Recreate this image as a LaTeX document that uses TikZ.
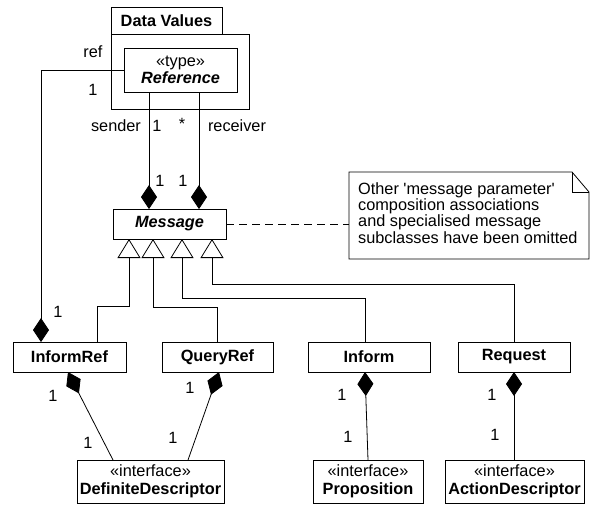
\documentclass[tikz,border=0pt]{standalone}
\usepackage{fontspec}
\setmainfont{Liberation Sans}
\usetikzlibrary{arrows.meta}
\begin{document}
\begin{tikzpicture}[x=1pt,y=-1pt, font=\fontsize{16.3}{17.5}\selectfont,
  box/.style={draw, line width=0.9pt, inner sep=0pt, outer sep=0pt, align=center, fill=white},
  conn/.style={line width=0.8pt},
  comp/.style={conn, -{Diamond[length=24pt,width=16pt,fill=black]}},
  compstart/.style={conn, {Diamond[length=24pt,width=16pt,fill=black]}-},
  gen/.style={conn, line join=miter, -{Triangle[length=19pt,width=23pt,fill=white]}},
  lbl/.style={inner sep=0pt}]
\useasboundingbox (0,0) rectangle (591,504);
\fill[white] (0,0) rectangle (591,504);
% package
\node[box, minimum width=138pt, minimum height=75pt] (pkg) at (180,71.5) {};
\node[box, minimum width=111pt, minimum height=27pt] (tab) at (166.5,20.5) {\textbf{Data Values}};
\node[box, minimum width=113pt, minimum height=44pt] (reference) at (180.5,70) {«type»\\\textbf{\textit{Reference}}};
% message
\node[box, minimum width=113pt, minimum height=30pt] (message) at (169.5,224) {\textbf{\textit{Message}}};
% note
\draw[line width=0.8pt, fill=white] (349,172) -- (572,172) -- (589,192) -- (589,259) -- (349,259) -- cycle;
\draw[line width=0.8pt] (572,172) -- (572,192) -- (589,192);
\coordinate (notew) at (349,223);
\node[lbl, anchor=west, align=left, font=\fontsize{16.3}{14}\selectfont] (notetext) at (358,213) {Other \textquotesingle message parameter\textquotesingle\\composition associations\\and specialised message\\subclasses have been omitted};
\draw[conn, dash pattern=on 8pt off 5pt] (message.east) -- (notew |- message.east);
% subclasses
\node[box, minimum width=113pt, minimum height=30pt] (informref) at (69.5,357) {\textbf{InformRef}};
\node[box, minimum width=111pt, minimum height=30pt] (queryref) at (217.5,357) {\textbf{QueryRef}};
\node[box, minimum width=122pt, minimum height=30pt] (inform) at (369,357) {\textbf{Inform}};
\node[box, minimum width=112pt, minimum height=30pt] (request) at (514,357) {\textbf{Request}};
% interfaces
\node[box, minimum width=147pt, minimum height=43pt] (dd) at (150.5,481.5) {«interface»\\\textbf{DefiniteDescriptor}};
\node[box, minimum width=110pt, minimum height=43pt] (prop) at (368,481.5) {«interface»\\\textbf{Proposition}};
\node[box, minimum width=139pt, minimum height=43pt] (ad) at (514.5,481.5) {«interface»\\\textbf{ActionDescriptor}};
% compositions to Message
\draw[comp] ([xshift=25pt]reference.south west) coordinate (s1) -- (s1 |- message.north);
\draw[comp] ([xshift=75pt]reference.south west) coordinate (r1) -- (r1 |- message.north);
\draw[comp] (reference.west) -| ([xshift=28pt]informref.north west);
% generalizations
\draw[gen] ([xshift=84pt]informref.north west) -- ++(0,-36) -| ([xshift=16pt]message.south west);
\draw[gen] (queryref.north) -- ++(0,-35) -| ([xshift=40pt]message.south west);
\draw[gen] ([xshift=57pt]inform.north west) -- ++(0,-44) -| ([xshift=69pt]message.south west);
\draw[gen] (request.north) -- ++(0,-58) -| ([xshift=99pt]message.south west);
% bottom compositions
\draw[compstart] ([xshift=55pt]informref.south west) -- ([xshift=36pt]dd.north west);
\draw[compstart] ([xshift=57pt]queryref.south west) -- ([xshift=111pt]dd.north west);
\draw[compstart] ([xshift=57pt]inform.south west) -- ([xshift=55pt]prop.north west);
\draw[compstart] (request.south) -- (request.south |- ad.north);
% labels
\node[lbl] (lref) at (93,52) {ref};
\node[lbl] (lref1) at (93,90) {1};
\node[lbl] (lsender) at (116,126) {sender};
\node[lbl] (ls1) at (157,126) {1};
\node[lbl] (lstar) at (182,124) {*};
\node[lbl] (lreceiver) at (237,126) {receiver};
\node[lbl] (lm1) at (160,181) {1};
\node[lbl] (lm2) at (183,181) {1};
\node[lbl] (lir) at (58,312) {1};
\node[lbl] (lir2) at (53,396) {1};
\node[lbl] (ldd1) at (88,443) {1};
\node[lbl] (lqr) at (190,388) {1};
\node[lbl] (ldd2) at (173,438) {1};
\node[lbl] (linf) at (342,395) {1};
\node[lbl] (lprop) at (348,437) {1};
\node[lbl] (lreq) at (492,395) {1};
\node[lbl] (lad) at (495,435) {1};
\end{tikzpicture}
\end{document}
